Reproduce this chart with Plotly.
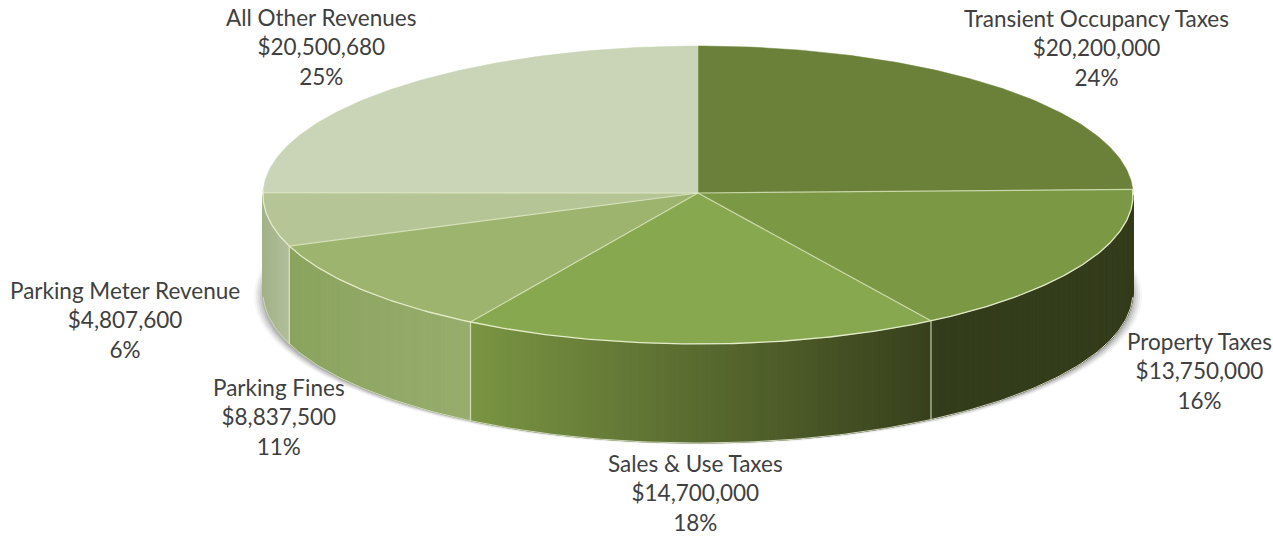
import numpy as np
import plotly.graph_objects as go

# Revenue breakdown, clockwise from twelve o'clock
categories = ["Transient Occupancy Taxes", "Property Taxes", "Sales & Use Taxes",
              "Parking Fines", "Parking Meter Revenue", "All Other Revenues"]
revenues = [20200000, 13750000, 14700000, 8837500, 4807600, 20500680]
percent_labels = ["24%", "16%", "18%", "11%", "6%", "25%"]
label_x = [1096, 1199, 695, 279, 125, 321]
label_y = [48, 371, 493, 417, 320, 47]

face_colors = ["#6b8039", "#7b9845", "#88a84f", "#9db46f", "#b6c596", "#cad5b7"]
# Side-wall shade at the clockwise start and end of each slice
wall_start = ["#333c1b", "#333c1b", "#37401c", "#97ad6d", "#b3bf9c", "#a3b287"]
wall_end = ["#333c1b", "#333c1b", "#7a9543", "#8ba45e", "#a3b287", "#a3b287"]
EDGE = "#e4ecca"
SPOKE = "rgba(228,236,202,0.75)"
TEXT = "#404040"

# Projected geometry of the disc, in page pixels
CX, CY, RX, RY = 698.0, 195.0, 435.0, 149.0
APEX_Y = 193.0
BASE_CY, BASE_RY = 292.0, 151.0

fig = go.Figure()


def rim(theta_deg, cy=CY, ry=RY):
    t = np.radians(theta_deg)
    return CX + RX * np.sin(t), cy - ry * np.cos(t)


def polygon(xs, ys, fill, line=None, width=0):
    fig.add_trace(go.Scatter(
        x=list(xs), y=list(ys), mode="lines", fill="toself", fillcolor=fill,
        line=dict(color=line or fill, width=width), hoverinfo="skip", showlegend=False))


def stroke(xs, ys, color=EDGE, width=1.3):
    fig.add_trace(go.Scatter(
        x=list(xs), y=list(ys), mode="lines", line=dict(color=color, width=width),
        hoverinfo="skip", showlegend=False))


def hex_rgb(c):
    return np.array([int(c[i:i + 2], 16) for i in (1, 3, 5)], dtype=float)


def mix(a, b, f):
    r, g, b_ = hex_rgb(a) * (1 - f) + hex_rgb(b) * f
    return f"rgb({r:.0f},{g:.0f},{b_:.0f})"


# Slice boundaries follow directly from the revenue shares
shares = np.array(revenues, dtype=float) / sum(revenues)
edges = np.concatenate([[0.0], np.cumsum(shares) * 360.0])

# Soft drop shadow peeking out around the disc body
full = np.linspace(0, 360, 361)
for grow, alpha in zip([9, 7, 5, 3, 1], [0.05, 0.07, 0.09, 0.12, 0.15]):
    t = np.radians(full)
    polygon(CX + (RX + grow) * np.sin(t), 296 - (146 + grow * 0.3) * np.cos(t),
            f"rgba(70,70,70,{alpha})")

# Side wall: narrow strips shaded from one end of the slice to the other
for i in range(len(categories)):
    lo, hi = max(edges[i], 90.0), min(edges[i + 1], 270.0)
    if hi <= lo:
        continue
    steps = max(2, int((hi - lo) / 0.6))
    th = np.linspace(lo, hi, steps + 1)
    x_lo, x_hi = rim(lo)[0], rim(hi)[0]
    for a, b in zip(th[:-1], th[1:]):
        xa, ya = rim(a)
        xb, yb = rim(b)
        xc, yc = rim(b, BASE_CY, BASE_RY)
        xd, yd = rim(a, BASE_CY, BASE_RY)
        f = ((xa + xb) / 2 - x_lo) / (x_hi - x_lo)
        polygon([xa, xb, xc, xd, xa], [ya, yb, yc, yd, ya],
                mix(wall_start[i], wall_end[i], f), width=1)

# Thin highlight along the foot of the wall
th = np.linspace(92, 268, 200)
stroke(*rim(th, BASE_CY, BASE_RY), color="#cfd6bd", width=1)

# Seams between neighbouring wall sections
for e in edges[1:-1]:
    if 90 < e < 270:
        xt, yt = rim(e)
        xb, yb = rim(e, BASE_CY, BASE_RY)
        stroke([xt, xb], [yt, yb], color=SPOKE, width=1.3)

# Top face wedges
for i in range(len(categories)):
    th = np.linspace(edges[i], edges[i + 1], 120)
    xs, ys = rim(th)
    polygon(np.r_[CX, xs, CX], np.r_[APEX_Y, ys, APEX_Y], face_colors[i], width=0.5)

# Light rim on the front of the top face and spokes between wedges
th = np.linspace(edges[1], 272, 300)
stroke(*rim(th), width=1.3)
for e in edges[1:-1]:
    xe, ye = rim(e)
    stroke([CX, xe], [APEX_Y, ye], color=SPOKE, width=1.2)

# Value labels
for name, value, pct, lx, ly in zip(categories, revenues, percent_labels, label_x, label_y):
    fig.add_annotation(
        x=lx, y=ly, xref="x", yref="y", showarrow=False, align="center",
        text=f"{name}<br>${value:,}<br>{pct}",
        font=dict(family="Lato", size=22.5, color=TEXT))

fig.update_layout(
    width=1273, height=536, margin=dict(l=0, r=0, t=0, b=0), autosize=False,
    paper_bgcolor="white", plot_bgcolor="white", showlegend=False,
    xaxis=dict(range=[0, 1273], visible=False, fixedrange=True),
    yaxis=dict(range=[536, 0], visible=False, fixedrange=True))

fig.write_html("out.html", config={"displayModeBar": False})
